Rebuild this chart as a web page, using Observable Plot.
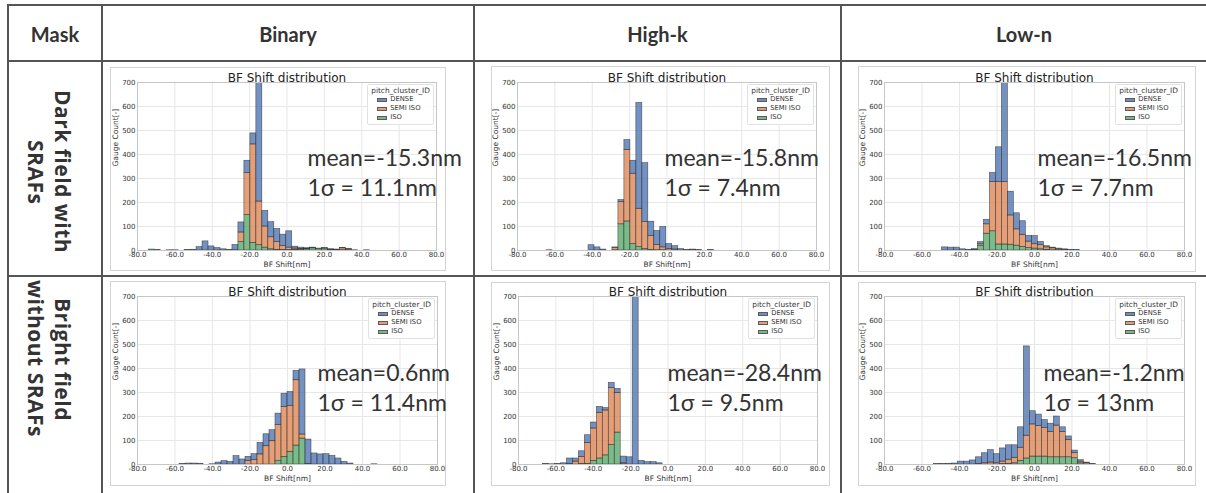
<!DOCTYPE html>
<html><head><meta charset="utf-8">
<script src="https://cdn.jsdelivr.net/npm/d3@7"></script>
<script src="https://cdn.jsdelivr.net/npm/@observablehq/plot@0.6"></script>
<style>
html,body{margin:0;padding:0;background:#fff}
body{width:1206px;height:493px;overflow:hidden;position:relative;font-family:Lato,"Open Sans",sans-serif}
.ln{position:absolute;background:#555}
.hd{position:absolute;font-family:Lato,sans-serif;font-weight:700;font-size:20px;color:#333;text-align:center}
.rh{position:absolute;writing-mode:vertical-rl;display:flex;align-items:center;justify-content:center;text-align:center;font-family:"Open Sans",sans-serif;font-weight:700;font-size:21px;letter-spacing:0.5px;line-height:27px;color:#333}
.fr{position:absolute;border:1px solid #d4d4d4;box-sizing:border-box;background:#fff}
.pc{position:absolute}
.pc svg{overflow:visible}
.leg{position:absolute;background:rgba(255,255,255,0.85);border:1px solid #e2e2e2;border-radius:2px;padding:1px 3px 2px 3px;font-family:"DejaVu Sans",sans-serif;color:#333}
.leg .lt{font-size:7.4px;line-height:9px;text-align:center}
.leg .li{font-size:6.8px;line-height:9px;display:flex;align-items:center}
.leg .sw{display:inline-block;width:10px;height:4px;margin:0 3px 0 6px;border:0.5px solid #333;box-sizing:border-box}
</style></head><body>
<script>
// ---------- data ----------
const maskTypes = ["Binary", "High-k", "Low-n"];
const fieldTypes = [["Dark field with", "SRAFs"], ["Bright field", "without SRAFs"]];
const clusters = ["DENSE", "SEMI ISO", "ISO"];
const xTicks = [-80, -60, -40, -20, 0, 20, 40, 60, 80];
const yTicks = [0, 100, 200, 300, 400, 500, 600, 700];
const binWidth = 3.2;
const binStarts = [-74.0, -74.0, -49.4, -57.6, -66.9, -53.7];

// Dark field, Binary
const darkBinaryIso   = [4,3,0,0,0,0,0,0,0,0,0,0,0,0,0,35,148,32,22,12,5,3,2,2,3,4,5,9,6,8,3,2,1,0,0,0,0,0];
const darkBinarySemi  = [0,0,0,0,0,0,0,0,0,0,0,0,0,0,1,40,175,410,182,88,50,33,16,10,5,3,2,1,0,0,1,1,8,4,0,0,0,0];
const darkBinaryDense = [0,0,0,1,1,0,2,3,14,38,17,10,5,3,22,42,51,46,536,65,63,54,48,68,8,5,3,2,2,2,1,1,1,2,1,0,1,0];
// Dark field, High-k
const darkHighkIso   = [0,0,0,0,0,0,0,0,0,0,0,0,0,0,1,109,121,27,14,6,2,1,1,0,0,0,0,0,0,0,3];
const darkHighkSemi  = [0,0,0,0,0,0,0,0,0,0,0,0,0,0,10,93,298,293,160,112,58,22,12,6,4,0,0,2,0,0,0];
const darkHighkDense = [0,0,0,1,0,0,0,0,0,0,22,13,4,0,2,8,41,54,441,246,60,58,85,21,14,6,3,2,2,0,0];
// Dark field, Low-n
const darkLownIso   = [0,0,0,0,0,0,20,70,80,25,25,24,20,15,10,8,5,3,1,0,0,0,0];
const darkLownSemi  = [0,0,0,0,0,2,6,39,205,260,260,122,68,50,27,18,17,10,8,4,2,0,0];
const darkLownDense = [13,12,12,5,3,4,9,19,38,145,495,99,67,57,24,34,14,5,3,4,3,3,2];
// Bright field, Binary
const brightBinaryIso   = [0,0,0,0,0,0,0,0,0,0,0,0,0,0,0,0,14,32,53,79,108,0,0,0,0,0,0,0,0,0,0,0,0];
const brightBinarySemi  = [0,0,0,0,0,0,0,0,0,0,0,14,18,42,76,97,150,208,190,272,17,2,0,0,0,0,0,0,0,0,0,0,0];
const brightBinaryDense = [2,4,4,3,0,1,8,14,11,35,21,18,25,48,50,46,48,55,59,39,271,102,46,42,43,36,25,11,4,0,0,0,1];
// Bright field, High-k
const brightHighkIso   = [0,0,0,0,0,0,2,3,15,25,38,82,133,1,0,0,0,0,0,0];
const brightHighkSemi  = [0,0,0,0,2,12,30,87,135,190,187,236,165,4,0,0,0,0,0,0];
const brightHighkDense = [3,1,2,5,23,13,23,32,25,25,10,22,17,28,30,1100,15,10,10,5];
// Bright field, Low-n
const brightLownIso   = [0,0,0,0,0,0,0,0,0,0,0,2,3,5,15,25,33,33,33,30,30,30,30,26,5,0,0];
const brightLownSemi  = [0,0,0,0,0,0,0,2,5,8,5,10,17,23,55,95,134,127,119,105,132,105,73,21,7,5,0];
const brightLownDense = [2,2,3,4,12,12,17,28,42,52,38,55,60,52,85,372,55,48,33,35,38,20,14,11,6,3,3];

const meanLabels  = ["mean=-15.3nm", "mean=-15.8nm", "mean=-16.5nm", "mean=0.6nm", "mean=-28.4nm", "mean=-1.2nm"];
const sigmaLabels = ["1σ = 11.1nm", "1σ = 7.4nm", "1σ = 7.7nm", "1σ = 11.4nm", "1σ = 9.5nm", "1σ = 13nm"];
const panelSeries = [
  [darkBinaryDense, darkBinarySemi, darkBinaryIso],
  [darkHighkDense, darkHighkSemi, darkHighkIso],
  [darkLownDense, darkLownSemi, darkLownIso],
  [brightBinaryDense, brightBinarySemi, brightBinaryIso],
  [brightHighkDense, brightHighkSemi, brightHighkIso],
  [brightLownDense, brightLownSemi, brightLownIso]
];

// ---------- layout / style ----------
const palette = ["#4C72B0", "#DD8452", "#55A868"];
// frame box [l,t,r,b], plot area [l,t,r,b], annotation offset from plot top-left
const layout = [
  {fr:[110,67,446,271], pa:[137,82,436,250], ann:[170,76]},
  {fr:[491,66,830,271], pa:[517,82,816,250], ann:[147,76]},
  {fr:[858,66,1196,272], pa:[884,82,1184,250], ann:[153,76]},
  {fr:[110,281,446,486], pa:[137,296,437,464], ann:[180,77]},
  {fr:[491,282,830,486], pa:[518,296,817,464], ann:[149,77]},
  {fr:[858,282,1196,486], pa:[884,296,1184,464], ann:[159,77]}
];

const body = document.body;
function add(cls, css, html) {
  const d = document.createElement("div");
  d.className = cls;
  Object.assign(d.style, css);
  if (html != null) d.innerHTML = html;
  body.appendChild(d);
  return d;
}

// table lines
add("ln", {left:"7px", top:"4px", width:"1199px", height:"2px"});
add("ln", {left:"7px", top:"60px", width:"1199px", height:"2px"});
add("ln", {left:"7px", top:"275px", width:"1199px", height:"2px"});
for (const x of [7, 101, 473, 840]) add("ln", {left:x+"px", top:"4px", width:"2px", height:"489px"});

// headers
add("hd", {left:"9px", top:"22px", width:"92px"}, "Mask");
const colBounds = [[103,473],[475,840],[842,1206]];
maskTypes.forEach((m,i) => add("hd", {left:colBounds[i][0]+"px", top:"22px", width:(colBounds[i][1]-colBounds[i][0])+"px"}, m));
add("rh", {left:"3px", top:"62px", width:"92px", height:"220px"}, fieldTypes[0].join("<br>"));
add("rh", {left:"3px", top:"279px", width:"92px", height:"160px"}, fieldTypes[1].join("<br>"));

// panels
layout.forEach((L, i) => {
  add("fr", {left:L.fr[0]+"px", top:L.fr[1]+"px", width:(L.fr[2]-L.fr[0])+"px", height:(L.fr[3]-L.fr[1])+"px"});
  const rows = [];
  const [dense, semi, iso] = panelSeries[i];
  for (let k = 0; k < dense.length; k++) {
    const x1 = binStarts[i] + k * binWidth, x2 = x1 + binWidth;
    const vals = [iso[k], semi[k], dense[k]];
    const cats = ["ISO", "SEMI ISO", "DENSE"];
    let base = 0;
    vals.forEach((v, j) => {
      if (v > 0) rows.push({x1, x2, y1: base, y2: base + v, cat: cats[j]});
      base += v;
    });
  }
  const fw = L.fr[2]-L.fr[0], fh = L.fr[3]-L.fr[1];
  const chart = Plot.plot({
    width: fw, height: fh,
    marginLeft: L.pa[0]-L.fr[0], marginRight: L.fr[2]-L.pa[2],
    marginTop: L.pa[1]-L.fr[1], marginBottom: L.fr[3]-L.pa[3],
    x: {domain: [-80, 80]},
    y: {domain: [0, 700]},
    color: {domain: clusters, range: palette},
    style: {fontFamily: "DejaVu Sans, sans-serif", fontSize: "7px", color: "#333", background: "transparent", overflow: "visible"},
    marks: [
      Plot.ruleX(xTicks, {stroke: "#e4e4e4", strokeWidth: 0.9}),
      Plot.ruleY(yTicks, {stroke: "#e4e4e4", strokeWidth: 0.9}),
      Plot.rect(rows, {x1: "x1", x2: "x2", y1: "y1", y2: "y2", fill: "cat", fillOpacity: 0.78, stroke: "#2a2a2a", strokeWidth: 0.6, strokeOpacity: 0.75, clip: true}),
      Plot.frame({stroke: "#c6c6c6"}),
      Plot.axisX({ticks: xTicks, tickFormat: d => d.toFixed(1), tickSize: 0, tickPadding: 2, label: null, fontSize: 7}),
      Plot.axisY({ticks: yTicks, tickSize: 0, tickPadding: 2, label: null, fontSize: 7}),
      Plot.text(["BF Shift distribution"], {frameAnchor: "top", dy: -1, lineAnchor: "bottom", fontSize: 12, fill: "#222"}),
      Plot.text(["BF Shift[nm]"], {frameAnchor: "bottom", dy: 14, lineAnchor: "middle", fontSize: 7.5, fill: "#333"}),
      Plot.text(["Gauge Count[-]"], {frameAnchor: "left", dx: -22, rotate: -90, fontSize: 7.5, fill: "#333"}),
      Plot.text([meanLabels[i]], {frameAnchor: "top-left", dx: L.ann[0], dy: L.ann[1], textAnchor: "start", lineAnchor: "middle", fontFamily: "Lato, sans-serif", fontSize: 23, fill: "#333"}),
      Plot.text([sigmaLabels[i]], {frameAnchor: "top-left", dx: L.ann[0], dy: L.ann[1] + 30, textAnchor: "start", lineAnchor: "middle", fontFamily: "Lato, sans-serif", fontSize: 23, fill: "#333"})
    ]
  });
  const pc = add("pc", {left:L.fr[0]+"px", top:L.fr[1]+"px", width:fw+"px", height:fh+"px"});
  pc.appendChild(chart);
  // legend
  add("leg", {right:(1206 - L.pa[2] + 2)+"px", top:(L.pa[1] + 2)+"px"},
    `<div class="lt">pitch_cluster_ID</div>` +
    clusters.map((c, j) => `<div class="li"><span class="sw" style="background:${palette[j]};opacity:0.8"></span>${c}</div>`).join(""));
});
</script>
</body></html>
